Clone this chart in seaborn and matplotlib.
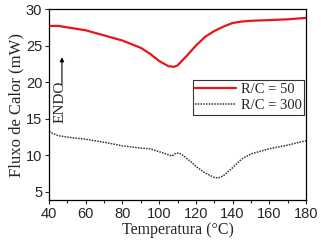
import matplotlib
matplotlib.use("Agg")
import matplotlib.pyplot as plt
import seaborn as sns
import pandas as pd
from matplotlib.ticker import MultipleLocator

# curva R/C = 50
temp_50 = [40, 45, 50, 60, 70, 80, 90, 95, 100, 105, 108, 110, 115, 120, 125, 130, 135, 140, 145, 150, 160, 170, 180]
fluxo_50 = [27.7, 27.7, 27.5, 27.1, 26.4, 25.7, 24.7, 23.9, 22.9, 22.2, 22.1, 22.3, 23.6, 25.0, 26.2, 27.0, 27.6, 28.1, 28.3, 28.4, 28.5, 28.6, 28.8]

# curva R/C = 300
temp_300 = [40, 42, 45, 50, 60, 70, 80, 90, 95, 100, 105, 107, 109, 111, 113, 117, 120, 125, 130, 132, 135, 140, 145, 150, 160, 170, 180]
fluxo_300 = [13.3, 13.0, 12.7, 12.5, 12.2, 11.8, 11.3, 11.0, 10.9, 10.5, 10.1, 9.9, 10.3, 10.3, 10.0, 9.2, 8.5, 7.6, 7.0, 6.9, 7.2, 8.3, 9.5, 10.2, 10.9, 11.4, 12.0]

df50 = pd.DataFrame({'T': temp_50, 'Q': fluxo_50})
df300 = pd.DataFrame({'T': temp_300, 'Q': fluxo_300})

sns.set_style('ticks')
fig = plt.figure(figsize=(3.21, 2.46), dpi=100)
ax = fig.add_axes([0.153, 0.187, 0.80, 0.776])

sns.lineplot(data=df50, x='T', y='Q', color='#e8141c', linewidth=1.6, label='R/C = 50', ax=ax)
sns.lineplot(data=df300, x='T', y='Q', color='#333333', linewidth=1.1, linestyle=(0, (1, 0.8)), label='R/C = 300', ax=ax)

ax.set_xlim(40, 180)
ax.set_ylim(3.9, 30)
ax.xaxis.set_major_locator(MultipleLocator(20))
ax.xaxis.set_minor_locator(MultipleLocator(10))
ax.yaxis.set_major_locator(MultipleLocator(5))
ax.tick_params(axis='both', labelsize=10.5, length=3, width=0.8, pad=2)
ax.tick_params(which='minor', length=2, width=0.8)
for lab in ax.get_xticklabels() + ax.get_yticklabels():
    lab.set_fontfamily('Liberation Sans')
for s in ax.spines.values():
    s.set_linewidth(0.9)
    s.set_color('black')

ax.set_xlabel('Temperatura (°C)', fontfamily='Liberation Serif', fontsize=11.5, labelpad=1)
ax.set_ylabel('Fluxo de Calor (mW)', fontfamily='Liberation Serif', fontsize=12, labelpad=1)

ax.text(46, 14.4, 'ENDO', rotation=90, ha='center', va='bottom', fontfamily='Liberation Serif', fontsize=11)
ax.annotate('', xy=(47, 23.8), xytext=(47, 19.3),
            arrowprops=dict(arrowstyle='-|>', color='black', lw=0.8, mutation_scale=6))

leg = ax.legend(loc='center right', bbox_to_anchor=(1.0, 0.537), borderaxespad=0.1, frameon=True, fancybox=False,
                edgecolor='black', prop={'family': 'Liberation Serif', 'size': 10.5},
                handlelength=2.8, borderpad=0.2, labelspacing=0.2, handletextpad=0.3)
leg.get_frame().set_linewidth(0.8)

fig.savefig('out.png', dpi=100)
